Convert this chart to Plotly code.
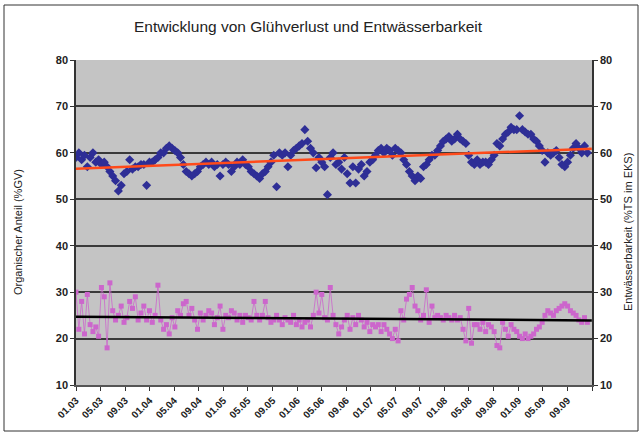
import pandas as pd
import plotly.graph_objects as go

# sampling dates (fortnightly samples)
sample_dates = pd.date_range("2003-01-01", periods=182, freq="14D")

gluehverlust = [
    59, 60, 58.5, 59.5, 57, 59,
    60, 58, 58.5, 57.5, 58,
    57, 56, 55, 54, 51.8,
    53, 55.5,
    56, 58.5, 56.5, 57,
    57, 57.5, 57.5, 53, 58, 58, 58.5,
    59, 60, 60, 61, 61.5, 61, 60.5,
    60, 59, 57.5, 56, 55.5,
    55, 55.5, 56, 57, 57.5,
    58, 57.5, 58, 57, 57.5,
    55,
    57.5, 58, 57.5, 56,
    57, 58, 57.5, 58.5,
    57.5, 57, 56, 55.5,
    55, 54.5, 55.5,
    56, 57, 58,
    59.5,
    52.7,
    60, 59.5, 60, 57,
    59.5, 60.5, 61, 61.5, 62,
    65,
    62.5, 61, 60,
    56.8,
    59, 58, 57,
    51,
    59, 60, 57.5,
    58, 56.5, 59,
    55.5, 53.5, 57, 53.5,
    56.5, 57.5, 55, 56,
    58, 58.5, 59.5, 60.5, 61,
    60, 61, 60.5, 59.5, 61, 60.5, 60,
    58.5, 57.5, 56, 55,
    54, 55, 54.5,
    57, 57.5, 58.5, 59.5, 59.5,
    60.5, 61.5, 62.5, 63,
    63.5, 62.5, 63, 64, 63,
    62.5, 62,
    59.5, 58, 57.5, 58.5, 57.5, 58,
    58, 57.5, 58.5, 59.5,
    62, 61.5, 63,
    64, 64.5, 65.5, 65,
    65,
    68,
    65, 64.5, 64, 64,
    63, 62.5, 61.5, 60.5,
    58, 60,
    59.5, 60, 60.5, 59,
    57.5, 57, 58,
    59.5, 61, 62, 61,
    60, 61.5, 60,
]

entwaesserbarkeit = [
    30, 22, 28, 21, 29.5, 23,
    21.5, 22.5, 20.5, 31, 29,
    18, 32, 26,
    24, 25, 27, 23.5, 24.5,
    28, 26.5, 29, 24, 25.5, 27,
    24, 26, 23.5, 25, 31.5,
    24, 22, 23, 21, 24.5, 22.5,
    26, 25, 27.5, 28, 25,
    26.5, 24, 22, 25.5, 24,
    25, 26, 25.5, 23, 24.5,
    27, 22, 25, 24.5, 26,
    25.5, 24, 25, 23.5, 25,
    24.5, 24, 28, 25, 24,
    25, 28, 24.5, 23.5, 24,
    25, 24, 23, 24.5, 24,
    23.5, 25, 23, 24, 22.5,
    23.5, 24, 22.5, 25, 30,
    25.5, 29.5, 24.5, 24, 31,
    25, 23, 21, 22.5, 24,
    25, 22, 24.5, 23, 25,
    24, 22.5, 23.5, 21.5, 23,
    22.5, 23, 21.5, 23, 22,
    21, 20, 22, 19.5, 26,
    24, 28.5, 29.5, 31, 27,
    26, 24, 25, 30.5, 23.5,
    27, 24.5, 25, 24.5, 24,
    25, 24.5, 24, 25, 24,
    24.5, 22, 19.5, 26.5, 19,
    23, 23, 22, 23.5, 21.5,
    23, 22.5, 21.5, 18.5, 18,
    23.5, 22, 20.5, 23, 22,
    21.5, 20.5, 20, 21, 20,
    20.5, 21, 22, 22.5, 23.5,
    25, 26, 25.5, 25, 26,
    26.5, 27, 27.5, 27, 26,
    25.5, 25, 24, 23.5, 24.5, 23.5,
]

trend_dates = ["2003-01-01", "2009-12-31"]
trend_gv = [56.6, 60.9]
trend_ek = [24.7, 23.9]

tick_dates = [
    "2003-01-01", "2003-05-01", "2003-09-01", "2004-01-01", "2004-05-01", "2004-09-01",
    "2005-01-01", "2005-05-01", "2005-09-01", "2006-01-01", "2006-05-01", "2006-09-01",
    "2007-01-01", "2007-05-01", "2007-09-01", "2008-01-01", "2008-05-01", "2008-09-01",
    "2009-01-01", "2009-05-01", "2009-09-01", "2010-01-01",
]
tick_labels = [
    "01.03", "05.03", "09.03", "01.04", "05.04", "09.04",
    "01.05", "05.05", "09.05", "01.06", "05.06", "09.06",
    "01.07", "05.07", "09.07", "01.08", "05.08", "09.08",
    "01.09", "05.09", "09.09", "",
]
y_ticks = [10, 20, 30, 40, 50, 60, 70, 80]

fig = go.Figure()

fig.add_trace(go.Scatter(
    x=sample_dates, y=entwaesserbarkeit, yaxis="y2", mode="lines+markers",
    line=dict(color="#cc66cc", width=0.8),
    marker=dict(symbol="square", size=5, color="#cc66cc"),
    name="Entwässerbarkeit", showlegend=False,
))
fig.add_trace(go.Scatter(
    x=sample_dates, y=gluehverlust, mode="markers",
    marker=dict(symbol="diamond", size=7, color="#2e2e96"),
    name="Glühverlust", showlegend=False,
))
fig.add_trace(go.Scatter(
    x=trend_dates, y=trend_gv, mode="lines",
    line=dict(color="#ff4a1a", width=2.5), showlegend=False,
))
fig.add_trace(go.Scatter(
    x=trend_dates, y=trend_ek, yaxis="y2", mode="lines",
    line=dict(color="#000000", width=2.5), showlegend=False,
))

FAM = "Liberation Sans, Arial"
tickfont = dict(family=FAM, size=11, color="#222222", weight="bold")

fig.update_layout(
    width=643, height=437,
    margin=dict(l=76, r=51, t=60, b=52),
    paper_bgcolor="white",
    plot_bgcolor="#c4c4c4",
    title=dict(
        text="Entwicklung von Glühverlust und Entwässerbarkeit",
        x=0.479, xanchor="center", y=1 - 27 / 437, yanchor="middle",
        font=dict(family=FAM, size=15.5, color="#222222"),
    ),
    xaxis=dict(
        type="date", range=["2003-01-01", "2010-01-01"],
        tickvals=tick_dates, ticktext=tick_labels, tickangle=-45,
        tickfont=dict(family=FAM, size=10, color="#222222", weight="bold"),
        ticks="outside", ticklen=4, tickcolor="#333333",
        showgrid=False, zeroline=False,
        showline=True, linecolor="#555555", linewidth=1.5,
    ),
    yaxis=dict(
        range=[10, 80], tickvals=y_ticks, tickfont=tickfont,
        ticks="outside", ticklen=4, tickcolor="#333333",
        showgrid=True, gridcolor="#3a3a3a", gridwidth=1.5,
        zeroline=False, showline=True, linecolor="#333333", linewidth=1.5,
    ),
    yaxis2=dict(
        range=[10, 80], tickvals=y_ticks, tickfont=tickfont,
        overlaying="y", side="right",
        ticks="outside", ticklen=4, tickcolor="#333333",
        showgrid=False, zeroline=False,
        showline=True, linecolor="#333333", linewidth=1.5,
    ),
    annotations=[
        dict(text="Organischer Anteil (%GV)", xref="paper", yref="paper",
             x=(18 - 76) / 516, y=(385 - 232) / 325, textangle=-90,
             showarrow=False, xanchor="center", yanchor="middle",
             font=dict(family=FAM, size=11, color="#222222")),
        dict(text="Entwässerbarkeit (%TS im EKS)", xref="paper", yref="paper",
             x=(628 - 76) / 516, y=(385 - 232) / 325, textangle=-90,
             showarrow=False, xanchor="center", yanchor="middle",
             font=dict(family=FAM, size=11, color="#222222")),
    ],
    shapes=[
        dict(type="rect", xref="paper", yref="paper",
             x0=(4 - 76) / 516, x1=(638 - 76) / 516,
             y0=(385 - 431) / 325, y1=(385 - 5) / 325,
             line=dict(color="#333333", width=1), fillcolor="rgba(0,0,0,0)"),
    ],
)

fig.write_html("out.html", config={"displayModeBar": False},
               post_script="document.body.style.margin='0px';")
